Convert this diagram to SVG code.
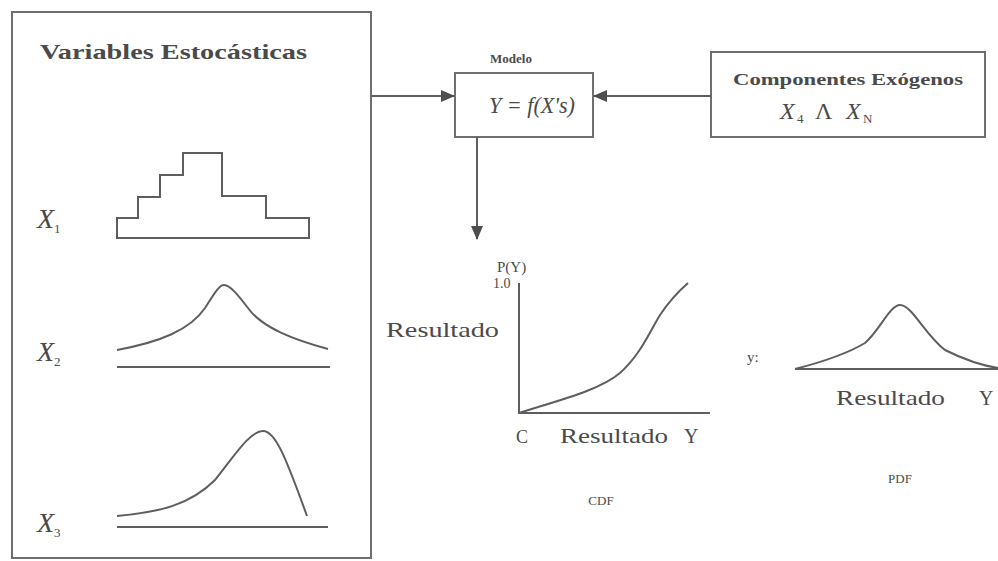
<svg xmlns="http://www.w3.org/2000/svg" width="998" height="561" viewBox="0 0 998 561">
<style>
  .box{fill:#fff;stroke:#6f6f6f;stroke-width:2}
  .ln{fill:none;stroke:#5e5e5e;stroke-width:2}
  .t{font-family:"Liberation Serif","Times New Roman",serif;fill:#4a4a4a}
  .b{font-weight:bold}
  .i{font-style:italic}
  .sub{font-size:13px;font-style:normal}
</style>
<defs>
  <marker id="ah" markerWidth="14" markerHeight="12" refX="13" refY="6" orient="auto" markerUnits="userSpaceOnUse">
    <path d="M0,0 L14,6 L0,12 Z" fill="#4e4e4e"/>
  </marker>
</defs>
<rect width="998" height="561" fill="#fff"/>

<g id="variables">
  <rect class="box" x="12" y="12" width="359" height="546"/>
  <text class="t b" x="40" y="59" font-size="22" textLength="267" lengthAdjust="spacingAndGlyphs">Variables Estocásticas</text>
  <path class="ln" d="M117,238 V218 H138 V197 H160 V175 H183 V153 H222 V196 H266 V218 H309 V238 Z"/>
  <text class="t i" x="37" y="228" font-size="28">X<tspan class="sub" dy="5">1</tspan></text>
  <path class="ln" d="M117,350 C160,342 190,330 205,308 C214,294 219,285 224,285 C230,285 238,295 248,308 C262,328 295,340 328,349"/>
  <path class="ln" d="M117,367 H330"/>
  <text class="t i" x="37" y="361" font-size="28">X<tspan class="sub" dy="5">2</tspan></text>
  <path class="ln" d="M117,516 C160,512 190,505 215,480 C235,455 250,431 263,431 C275,431 285,455 307,516"/>
  <path class="ln" d="M117,527 H328"/>
  <text class="t i" x="37" y="532" font-size="28">X<tspan class="sub" dy="5">3</tspan></text>
</g>

<g id="modelo">
  <text class="t b" x="511" y="63" font-size="13" text-anchor="middle">Modelo</text>
  <rect class="box" x="455" y="73" width="138" height="64"/>
  <text class="t i" x="489" y="113" font-size="23" textLength="86" lengthAdjust="spacingAndGlyphs">Y = f(X's)</text>
</g>

<g id="exogenos">
  <rect class="box" x="711" y="52" width="274" height="85"/>
  <text class="t b" x="733" y="85" font-size="16" textLength="230" lengthAdjust="spacingAndGlyphs">Componentes Exógenos</text>
  <text class="t i" x="780" y="119" font-size="24">X<tspan class="sub" x="797" dy="4">4</tspan><tspan x="815" dy="-4" font-style="normal">Λ</tspan><tspan x="846">X</tspan><tspan class="sub" x="863" dy="4">N</tspan></text>
</g>

<g id="cdf">
  <path class="ln" d="M519,283 V413 H710"/>
  <path class="ln" d="M519,413 C560,400 600,390 620,373 C640,355 648,335 660,315 C670,300 680,290 688,283"/>
  <text class="t" x="497" y="272" font-size="15">P(Y)</text>
  <text class="t" x="493" y="288" font-size="14">1.0</text>
  <text class="t" x="386" y="337" font-size="22" textLength="113" lengthAdjust="spacingAndGlyphs">Resultado</text>
  <text class="t" x="516" y="443" font-size="18">C</text>
  <text class="t" x="560" y="443" font-size="22" textLength="108" lengthAdjust="spacingAndGlyphs">Resultado</text>
  <text class="t" x="684" y="443" font-size="20">Y</text>
  <text class="t" x="601" y="505" font-size="13" text-anchor="middle">CDF</text>
</g>

<g id="pdf">
  <path class="ln" d="M795,369 H998"/>
  <path class="ln" d="M795,369 C830,360 850,352 865,343 C880,330 890,305 900,305 C912,305 925,335 945,350 C965,360 985,366 998,368"/>
  <text class="t" x="747" y="362" font-size="15">y:</text>
  <text class="t" x="836" y="405" font-size="22" textLength="109" lengthAdjust="spacingAndGlyphs">Resultado</text>
  <text class="t" x="979" y="405" font-size="20">Y</text>
  <text class="t" x="900" y="483" font-size="13" text-anchor="middle">PDF</text>
</g>

<g id="connectors">
  <path class="ln" d="M371,96 H454" marker-end="url(#ah)"/>
  <path class="ln" d="M711,96 H594" marker-end="url(#ah)"/>
  <path class="ln" d="M477,137 V239" marker-end="url(#ah)"/>
</g>
</svg>
